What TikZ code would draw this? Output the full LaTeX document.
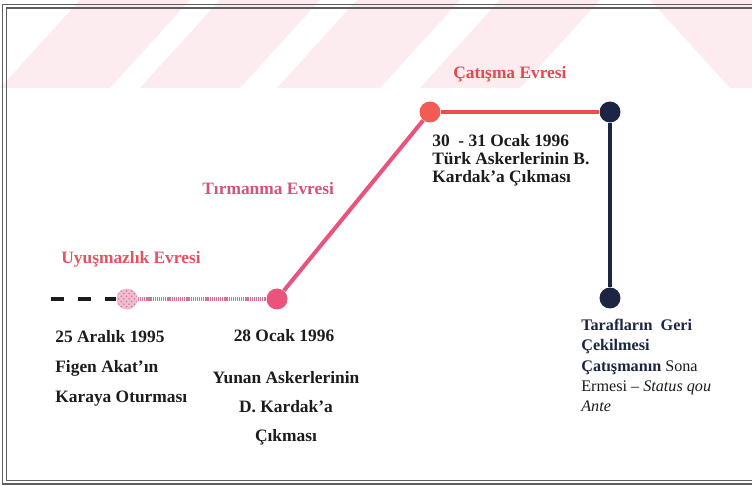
\documentclass[tikz,border=0pt]{standalone}
\usepackage{fontspec}
\setmainfont{Liberation Serif}
\usepackage{tikz}
\usetikzlibrary{patterns,positioning}
\definecolor{wmpink}{RGB}{252,236,240}
\definecolor{framegray}{RGB}{95,95,95}
\definecolor{textblack}{RGB}{28,28,28}
\definecolor{uyustext}{RGB}{228,84,96}
\definecolor{tirtext}{RGB}{214,82,122}
\definecolor{cattext}{RGB}{226,74,78}
\definecolor{hatchpink}{RGB}{222,110,150}
\definecolor{pinkline}{RGB}{234,84,124}
\definecolor{redline}{RGB}{236,78,78}
\definecolor{reddot}{RGB}{242,92,84}
\definecolor{navy}{RGB}{28,38,66}

\begin{document}
\begin{tikzpicture}[x=0.02cm,y=-0.02cm,
    dot/.style={circle,minimum size=0.42cm,inner sep=0pt},
    phase/.style={font=\fontsize{9.9}{12}\selectfont\bfseries,anchor=base west,inner sep=0pt},
    event/.style={font=\fontsize{9.9}{17.3}\selectfont\bfseries,text=textblack,align=left,anchor=base west,inner sep=0pt}]
      \useasboundingbox[fill=white] (0,0) rectangle (752,486);
      % Watermark stripes
      \begin{scope}
        \clip (0,0) rectangle (752,88);
        \fill[wmpink] (0,88) -- (110,88) -- (190,0) -- (80,0) -- cycle;
        \fill[wmpink] (140,88) -- (240,88) -- (320,0) -- (220,0) -- cycle;
        \fill[wmpink] (277,88) -- (380,88) -- (460,0) -- (357,0) -- cycle;
        \fill[wmpink] (420,88) -- (520,88) -- (600,0) -- (500,0) -- cycle;
        \fill[wmpink] (650,0) -- (752,0) -- (752,50) -- (810,88) -- (730,88) -- cycle;
      \end{scope}
      % Frame
      \draw[framegray,line width=0.7pt] (752,4.5) -- (2.5,4.5) -- (2.5,484) -- (752,484);
      \draw[framegray,line width=0.7pt] (752,8) -- (6.5,8) -- (6.5,480.5) -- (752,480.5);
      % Dots
      \node[dot,preaction={fill=hatchpink!45},pattern=crosshatch dots,pattern color=hatchpink] (aralik) at (127,299) {};
      \node[dot,fill=pinkline] (ocak28) at (277,299) {};
      \node[dot,fill=reddot] (ocak30) at (430,112) {};
      \node[dot,fill=navy] (geri) at (610,112) {};
      \node[dot,fill=navy] (sona) at (610,298) {};
      \coordinate (start) at (51,299);
      % Lines
      \draw[textblack,line width=2.3pt,dash pattern=on 7.4pt off 7.9pt] (start) -- (aralik);
      \draw[hatchpink,line width=1.9pt,dash pattern=on 0.7pt off 0.5pt] (aralik) -- (ocak28);
      \draw[pinkline,line width=2.3pt] (ocak28) -- (ocak30);
      \draw[redline,line width=2.3pt] (ocak30) -- (geri);
      \draw[navy,line width=2pt] (geri) -- (sona);
      % Phases
      \node[phase,text=uyustext] (uyusEvre) at (61,264) {Uyuşmazlık Evresi};
      \node[phase,text=tirtext] (tirEvre) at (202,195) {Tırmanma Evresi};
      \node[phase,text=cattext] (catEvre) at (453,79) {Çatışma Evresi};
      % Events (anchored at the last line)
      \node[event] (aralikText) at (55,403) {25 Aralık 1995\\Figen Akat’ın\\Karaya Oturması};
      \node[event,anchor=base] (ocak28Date) at (284,342) {28 Ocak 1996};
      \node[event,anchor=base,align=center,font=\fontsize{9.9}{16.7}\selectfont\bfseries] (ocak28Text) at (286,442) {Yunan Askerlerinin\\D. Kardak’a\\Çıkması};
      \node[event,font=\fontsize{9.9}{10.5}\selectfont\bfseries] (ocak30Text) at (432,183) {30\ \ - 31 Ocak 1996\\Türk Askerlerinin B.\\Kardak’a Çıkması};
      \node[event,font=\fontsize{9.2}{11.6}\selectfont] (sonaText) at (581,412) {\textcolor{navy}{\bfseries Tarafların\ \ Geri}\\\textcolor{navy}{\bfseries Çekilmesi}\\\textcolor{navy}{\bfseries Çatışmanın} Sona\\Ermesi -- \textit{Status qou}\\\textit{Ante}};
    \end{tikzpicture}
\end{document}
